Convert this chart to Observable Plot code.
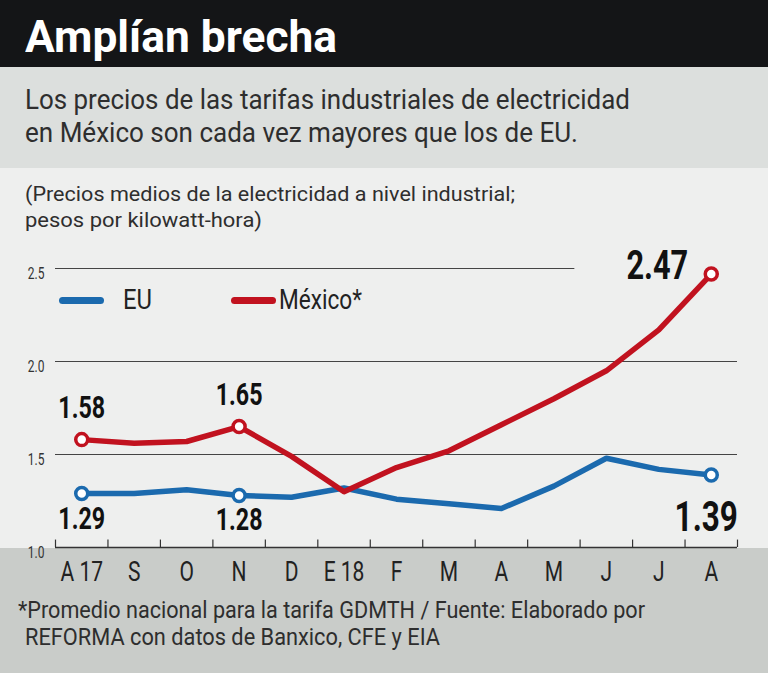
<!DOCTYPE html>
<html><head><meta charset="utf-8">
<script src="https://cdn.jsdelivr.net/npm/d3@7"></script>
<script src="https://cdn.jsdelivr.net/npm/@observablehq/plot@0.6"></script>
<style>
html,body{margin:0;padding:0;}
body{width:768px;height:673px;position:relative;overflow:hidden;background:#c9ccc9;
 font-family:Roboto,"Noto Sans",sans-serif;color:#2b2b2b;}
.abs{position:absolute;white-space:nowrap;}
#hdr{left:0;top:0;width:768px;height:67px;background:#141517;}
#sub{left:0;top:67px;width:768px;height:101px;background:#dcdfdd;}
#panel{left:0;top:168px;width:768px;height:380px;background:#eeefee;}
.title{font-size:45px;line-height:45px;font-weight:bold;color:#fff;}
.subt{font-size:28px;line-height:28px;color:#2e2e2e;}
.ylab{font-size:21px;line-height:21px;color:#2e2e2e;}
.foot{font-size:24px;line-height:24px;color:#2e2e2e;}
.lgt{font-size:27px;line-height:27px;color:#222;top:287px;}
#chart{left:0;top:230px;}
.lg{position:absolute;height:7px;border-radius:4px;width:45px;top:297px;}
</style></head>
<body>
<div id="hdr" class="abs"></div>
<div class="abs title" style="left:25px;top:14px" data-w="312">Amplían brecha</div>
<div id="sub" class="abs"></div>
<div class="abs subt" style="left:25px;top:86px" data-w="605">Los precios de las tarifas industriales de electricidad</div>
<div class="abs subt" style="left:25px;top:119px" data-w="553">en México son cada vez mayores que los de EU.</div>
<div id="panel" class="abs"></div>
<div class="abs ylab" style="left:25px;top:184px" data-w="490">(Precios medios de la electricidad a nivel industrial;</div>
<div class="abs ylab" style="left:25px;top:210px" data-w="237">pesos por kilowatt-hora)</div>
<div id="chart" class="abs"></div>
<div class="lg" style="left:59px;background:#1b6aae"></div>
<div class="abs lgt" style="left:123px" data-w="29">EU</div>
<div class="lg" style="left:231px;background:#c1121f"></div>
<div class="abs lgt" style="left:279px" data-w="83">México*</div>
<div class="abs foot" style="left:18px;top:598px" data-w="627">*Promedio nacional para la tarifa GDMTH / Fuente: Elaborado por</div>
<div class="abs foot" style="left:25px;top:625px" data-w="415">REFORMA con datos de Banxico, CFE y EIA</div>
<script>
const months = ["A 17","S","O","N","D","E 18","F","M","A","M","J","J","A"];
const eu     = [1.29, 1.29, 1.31, 1.28, 1.27, 1.32, 1.26, 1.235, 1.21, 1.33, 1.48, 1.42, 1.39];
const mexico = [1.58, 1.56, 1.57, 1.65, 1.49, 1.30, 1.43, 1.52, 1.66, 1.80, 1.95, 2.17, 2.47];
const highlight = [0, 3, 12];
const euLabels  = ["1.29", "1.28", "1.39"];
const mexLabels = ["1.58", "1.65", "2.47"];
const yTicks = [1.0, 1.5, 2.0, 2.5];
const yTickLabels = ["1.0", "1.5", "2.0", "2.5"];

const RED = "#c1121f", BLUE = "#1b6aae";
const edges = d3.range(months.length + 1).map(i => i - 0.5);
const euRows = eu.map((v, i) => ({i, v}));
const mxRows = mexico.map((v, i) => ({i, v}));
const euHi = highlight.map((i, k) => ({i, v: eu[i], label: euLabels[k]}));
const mxHi = highlight.map((i, k) => ({i, v: mexico[i], label: mexLabels[k]}));

const plot = Plot.plot({
  width: 768, height: 365,
  marginLeft: 55, marginRight: 31, marginTop: 38, marginBottom: 48,
  style: {background: "transparent", overflow: "visible", fontFamily: "Roboto, sans-serif"},
  x: {domain: [-0.5, months.length - 0.5], axis: null},
  y: {domain: [1, 2.5], axis: null},
  marks: [
    Plot.ruleY(yTicks.filter(d => d > 1 && d < 2.5), {x1: -0.5, x2: months.length - 0.5, stroke: "#444", strokeWidth: 1}),
    Plot.ruleY(yTicks.filter(d => d === 2.5), {x1: -0.5, x2: 9.4, stroke: "#444", strokeWidth: 1}),
    Plot.text(yTicks, {x: -0.5, y: d => d, text: (d, i) => yTickLabels[i], dx: -11, dy: 5, textAnchor: "end", fontSize: 16, fill: "#333"}),
    Plot.ruleY([1], {x1: -0.5, x2: months.length - 0.5, stroke: "#333", strokeWidth: 1.5}),
    Plot.ruleX(edges, {y1: 1, y2: 1.04, stroke: "#333", strokeWidth: 1.2}),
    Plot.text(months, {x: (d, i) => i, y: 1, text: d => d, dy: 33, lineAnchor: "bottom", fontSize: 28, fill: "#222"}),
    Plot.line(euRows, {x: "i", y: "v", stroke: BLUE, strokeWidth: 5.5, strokeLinejoin: "round", strokeLinecap: "round"}),
    Plot.line(mxRows, {x: "i", y: "v", stroke: RED, strokeWidth: 5.5, strokeLinejoin: "round", strokeLinecap: "round"}),
    Plot.dot(euHi, {x: "i", y: "v", r: 6, fill: "white", stroke: BLUE, strokeWidth: 3.5}),
    Plot.dot(mxHi, {x: "i", y: "v", r: 6, fill: "white", stroke: RED, strokeWidth: 3.5}),
    Plot.text(mxHi.slice(0, 2), {x: "i", y: "v", text: "label", dy: -22, lineAnchor: "bottom", fontSize: 31, fontWeight: "bold", fill: "#111"}),
    Plot.text(euHi.slice(0, 2), {x: "i", y: "v", text: "label", dy: 35, lineAnchor: "bottom", fontSize: 31, fontWeight: "bold", fill: "#111"}),
    Plot.text(mxHi.slice(2), {x: "i", y: "v", text: "label", dx: -23, dy: 5, textAnchor: "end", lineAnchor: "bottom", fontSize: 41, fontWeight: "bold", fill: "#111"}),
    Plot.text(euHi.slice(2), {x: "i", y: "v", text: "label", dx: -5, dy: 56, lineAnchor: "bottom", fontSize: 42, fontWeight: "bold", fill: "#111"})
  ]
});
document.getElementById("chart").appendChild(plot);

// condense the chart's text horizontally around each anchor (the reference uses a condensed face)
plot.querySelectorAll("text").forEach(t => {
  const tr = t.getAttribute("transform") || "";
  const x = t.getAttribute("x");
  let extra = "";
  if (x != null && !/em/.test(x)) { t.removeAttribute("x"); extra = `translate(${x},0)`; }
  t.setAttribute("transform", `${tr} ${extra} scale(0.75,1)`.trim());
});

// fit the HTML text lines to the widths measured on the reference
document.querySelectorAll("[data-w]").forEach(el => {
  const w = el.getBoundingClientRect().width;
  el.style.transformOrigin = "0 0";
  el.style.transform = `scaleX(${(+el.dataset.w / w).toFixed(4)})`;
});
</script>
</body></html>
